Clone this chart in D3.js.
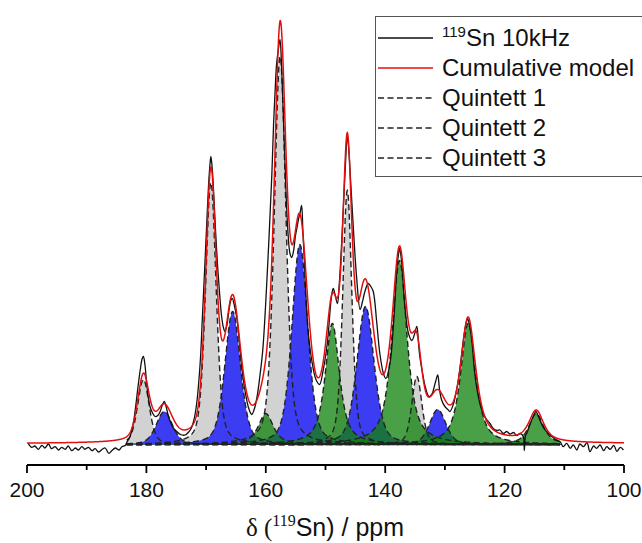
<!DOCTYPE html>
<html>
<head>
<meta charset="utf-8">
<script src="https://cdn.jsdelivr.net/npm/d3@7"></script>
<style>
  html, body { margin: 0; padding: 0; background: #fff; }
  svg { display: block; }
</style>
</head>
<body>
<svg id="chart" width="642" height="543"></svg>
<script>
// ---- axis ----
const xMajorTicks = [200, 180, 160, 140, 120, 100];
const xMinorTicks = [190, 170, 150, 130, 110];

// ---- fitted components: centre (ppm), height (a.u.), FWHM (ppm) ----
const q1Centers = [180.5, 169.2, 157.6, 146.35, 134.7];
const q1Heights = [65, 262, 388, 254, 68];
const q1Widths  = [2.3, 2.1, 2.3, 1.8, 2.0];

const q2Centers = [177.0, 165.55, 154.3, 143.3, 131.2];
const q2Heights = [33, 133, 200, 138, 35];
const q2Widths  = [3.2, 3.1, 3.1, 3.4, 3.2];

const q3Centers = [160.0, 148.85, 137.6, 126.1, 114.7];
const q3Heights = [31, 121, 184, 121, 31];
const q3Widths  = [3.0, 2.8, 3.0, 3.0, 2.9];

// Lorentzian fraction of the pseudo-Voigt profile for each quintet
const lorentzFractions = [0.4, 0.4, 0.75];
const modelOffset = 0.5;       // constant baseline of the cumulative model
const fitRange = [183.3, 110.7];

// ---- measured 119Sn spectrum: [ppm, intensity] ----
const spectrum = [
  [199.8,1.2],[199.2,-2.8],[198.7,-1.5],[198.1,-4.8],[197.5,-0.8],[197.0,-3.5],[196.4,0.5],[195.9,-4.2],
  [195.3,-2.2],[194.7,-5.5],[194.2,-2.8],[193.6,-4.8],[193.1,-1.5],[192.5,-6.2],[191.9,-3.5],[191.4,-5.5],
  [190.8,-2.2],[190.3,-4.8],[189.7,-2.8],[189.1,-6.2],[188.6,-4.2],[188.0,-7.5],[187.4,-4.8],[186.9,-3.5],
  [186.3,-8.8],[185.8,-6.2],[185.2,-3.5],[184.6,-5.5],[184.1,-2.2],[183.5,-0.8],
  [183.3,2],[182.8,7],[182.2,21],[181.8,38],[181.4,58],[181.0,76],[180.7,86],[180.5,88],[180.25,80],
  [179.95,61],[179.7,48],[179.4,38],[179.0,32],[178.55,28],[178.1,29],[177.7,33],[177.3,40],[177.0,43],
  [176.7,38],[176.3,28],[175.8,20],[175.3,15],[174.9,13],[174.3,10],[173.5,9.5],[173.0,12],[172.5,16],
  [172.1,23],[171.6,40],[171.0,81],[170.6,130],[170.2,181],[169.9,220],[169.6,258],[169.35,280],[169.2,288],
  [169.0,278],[168.7,248],[168.4,212],[168.1,181],[167.7,148],[167.4,128],[167.1,117],[166.85,113],
  [166.5,120],[166.1,137],[165.8,145],[165.6,146],[165.3,140],[164.8,124],[164.4,100],[164.05,78],
  [163.6,58],[163.2,44.5],[162.8,35],[162.35,30],[161.8,38],[161.4,50],[161.0,68],[160.5,95],[159.85,160],
  [159.4,215],[159.0,268],[158.7,320],[158.45,352],[158.2,380],[157.9,395],[157.62,405],[157.4,385],
  [157.17,348],[156.8,284],[156.35,218],[155.95,191],[155.67,187],[155.4,192],[155.0,210],[154.8,216],
  [154.5,226],[154.25,232],[154.0,239],[153.8,215],[153.6,190],[153.3,151],[152.87,111],[152.3,84],
  [151.6,65],[151.0,60],[150.4,74],[149.7,101],[149.13,141],[148.9,152],[148.7,156],[148.4,150],[148.0,141],
  [147.7,160],[147.3,201],[146.7,275],[146.35,308],[146.1,295],[145.9,275],[145.35,218],[144.8,168],
  [144.2,135],[143.8,143],[143.4,153],[142.85,161],[142.4,158],[142.0,153],[141.4,121],[140.9,91],
  [140.3,71],[139.9,66],[139.2,81],[138.6,121],[138.1,171],[137.8,189],[137.6,196],[137.35,188],[137.1,171],
  [136.7,138],[136.1,111],[135.55,104],[135.1,110],[134.7,118],[134.4,100],[134.2,88],[133.7,70],[133.3,58],
  [132.66,48],[132.2,50],[131.6,62],[131.2,69.5],[130.9,55],[130.55,44.5],[130.0,38],[129.5,35],[129.15,33],
  [128.6,40],[128.2,50],[127.75,64.5],[127.3,85],[126.9,105],[126.5,120],[126.2,126],[125.9,120],
  [125.5,104.5],[125.0,71],[124.4,48],[123.6,31],[123.0,25],[122.45,21],[121.9,16],[121.3,14],[120.77,14.5],
  [120.2,11],[119.65,13],[119.1,10.5],[118.5,12],[117.97,9],[117.4,11],[116.87,8],[116.7,-6],[116.5,9],
  [116.3,11],[115.7,21],[115.2,28],[114.75,33],[114.4,29],[114.1,24.5],[113.6,18],[113.2,14.5],[112.6,11],
  [112.1,8],[111.4,5],[110.7,2.8],[110.2,-2.2],[109.6,1.2],[109.0,-3.8],[108.5,-0.5],[107.9,-5.5],
  [107.4,0.5],[106.8,-2.2],[106.2,1.8],[105.7,-7.2],[105.1,-1.5],[104.6,-3.8],[104.0,-0.5],[103.4,-6.2],
  [102.9,-2.2],[102.3,-4.8],[101.7,-0.8],[101.2,-6.8],[100.6,-2.8],[100.1,-5.5]
];

// ---- legend ----
const legendSup    = ["119", "", "", "", ""];
const legendLabels = ["Sn 10kHz", "Cumulative model", "Quintett 1", "Quintett 2", "Quintett 3"];

// ---- styling ----
const sansFont  = "'Liberation Sans', Arial, sans-serif";
const serifFont = "'Liberation Serif', 'Times New Roman', serif";
const fillColors = ["#d2d2d2", "#3c3cf2", "rgb(17,130,12)"];
const fillOpacity = [1, 1, 0.76];
const redColor = "#e01010";

const svg = d3.select("#chart");
const x = d3.scaleLinear().domain([200, 100]).range([27, 624]);
const y = d3.scaleLinear().domain([0, 423]).range([444.5, 21.5]);

// pseudo-Voigt line shape
function peak(ppm, c, h, w, eta) {
  const t = (ppm - c) / w;
  return h * (eta / (1 + 4 * t * t) + (1 - eta) * Math.exp(-4 * Math.LN2 * t * t));
}

const quintets = [
  { c: q1Centers, h: q1Heights, w: q1Widths, eta: lorentzFractions[0] },
  { c: q2Centers, h: q2Heights, w: q2Widths, eta: lorentzFractions[1] },
  { c: q3Centers, h: q3Heights, w: q3Widths, eta: lorentzFractions[2] }
];

const step = 0.05;
const fitGrid = d3.range(fitRange[0], fitRange[1] - 1e-9, -step);
const fullGrid = d3.range(200, 100 - 1e-9, -step);

const components = quintets.map((q, qi) =>
  q.c.map((c, i) => ({
    quintet: qi,
    pts: fitGrid.map(p => [p, peak(p, c, q.h[i], q.w[i], q.eta)])
  }))
);

const model = fullGrid.map(p => {
  let s = modelOffset;
  quintets.forEach(q => q.c.forEach((c, i) => { s += peak(p, c, q.h[i], q.w[i], q.eta); }));
  return [p, s];
});

const area = d3.area().x(d => x(d[0])).y0(y(0)).y1(d => y(d[1]));
const line = d3.line().x(d => x(d[0])).y(d => y(d[1]));

// filled components
const gFill = svg.append("g");
components.forEach((comps, qi) => {
  comps.forEach(cmp => {
    gFill.append("path")
      .attr("d", area(cmp.pts))
      .attr("fill", fillColors[qi])
      .attr("fill-opacity", fillOpacity[qi])
      .attr("stroke", "none");
  });
});

// dashed component outlines
const gDash = svg.append("g");
components.flat().forEach(cmp => {
  gDash.append("path")
    .attr("d", line(cmp.pts))
    .attr("fill", "none")
    .attr("stroke", "#222")
    .attr("stroke-width", 1.4)
    .attr("stroke-dasharray", "6,3.5");
});

// measured spectrum
svg.append("path")
  .attr("d", d3.line().x(d => x(d[0])).y(d => y(d[1])).curve(d3.curveCatmullRom.alpha(0.5))(spectrum))
  .attr("fill", "none")
  .attr("stroke", "#111")
  .attr("stroke-width", 1.3);

// cumulative model
svg.append("path")
  .attr("d", line(model))
  .attr("fill", "none")
  .attr("stroke", redColor)
  .attr("stroke-width", 1.5);

// x axis
const axisY = 465;
const axis = svg.append("g");
axis.append("line")
  .attr("x1", x(200)).attr("x2", x(100))
  .attr("y1", axisY).attr("y2", axisY)
  .attr("stroke", "#000").attr("stroke-width", 1.8);
axis.selectAll("line.major").data(xMajorTicks).enter().append("line")
  .attr("x1", d => x(d)).attr("x2", d => x(d))
  .attr("y1", axisY).attr("y2", axisY + 8)
  .attr("stroke", "#000").attr("stroke-width", 1.8);
axis.selectAll("line.minor").data(xMinorTicks).enter().append("line")
  .attr("x1", d => x(d)).attr("x2", d => x(d))
  .attr("y1", axisY).attr("y2", axisY + 5)
  .attr("stroke", "#000").attr("stroke-width", 1.8);
axis.selectAll("text.tick").data(xMajorTicks).enter().append("text")
  .attr("x", d => x(d)).attr("y", 497)
  .attr("text-anchor", "middle")
  .attr("font-family", sansFont).attr("font-size", 21)
  .attr("fill", "#111")
  .text(d => d);

// axis title: δ (119Sn) / ppm
const title = svg.append("text")
  .attr("x", 325).attr("y", 536)
  .attr("text-anchor", "middle")
  .attr("font-size", 25).attr("fill", "#111");
title.append("tspan").attr("font-family", serifFont).text("δ (");
title.append("tspan").attr("font-family", serifFont).attr("font-size", 16).attr("dy", -10).text("119");
title.append("tspan").attr("font-family", sansFont).attr("dy", 10).text("Sn) / ppm");

// legend
const lg = svg.append("g");
lg.append("rect")
  .attr("x", 375.5).attr("y", 16.5).attr("width", 280).attr("height", 160)
  .attr("fill", "#fff").attr("stroke", "#555").attr("stroke-width", 1);
const legendStroke = ["#111", redColor, "#222", "#222", "#222"];
const legendDash = [null, null, "6,3.5", "6,3.5", "6,3.5"];
legendLabels.forEach((lab, i) => {
  const cy = 38 + i * 30;
  lg.append("line")
    .attr("x1", 378).attr("x2", 433).attr("y1", cy).attr("y2", cy)
    .attr("stroke", legendStroke[i]).attr("stroke-width", 1.4)
    .attr("stroke-dasharray", legendDash[i]);
  const t = lg.append("text")
    .attr("x", 442).attr("y", cy + 8)
    .attr("font-family", sansFont).attr("font-size", 24).attr("fill", "#111");
  if (legendSup[i]) {
    t.append("tspan").attr("font-size", 15).attr("dy", -9).text(legendSup[i]);
    t.append("tspan").attr("dy", 9).text(lab);
  } else {
    t.text(lab);
  }
});
</script>
</body>
</html>
